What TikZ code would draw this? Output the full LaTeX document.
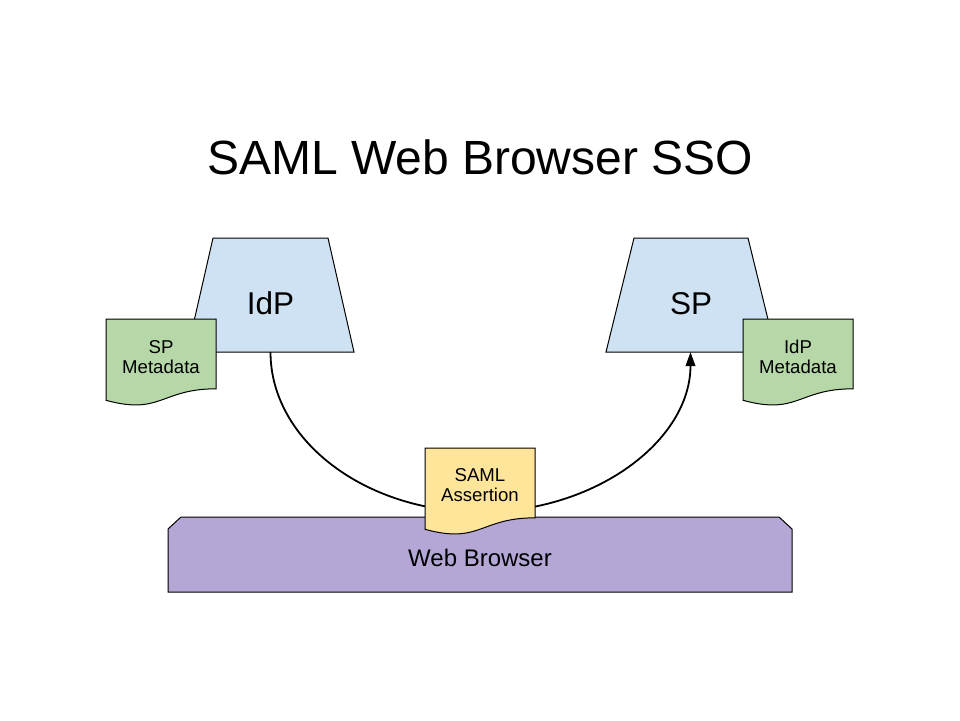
\documentclass[tikz,border=0pt]{standalone}
\usepackage{fontspec}
\setmainfont{Liberation Sans}
\usetikzlibrary{arrows.meta}
\definecolor{trapblue}{HTML}{CFE2F3}
\definecolor{docgreen}{HTML}{B6D7A8}
\definecolor{docyellow}{HTML}{FFE599}
\definecolor{browserpurple}{HTML}{B4A7D6}
\tikzset{
  shapeline/.style={draw=black, line width=1pt, line join=miter},
  titletext/.style={font=\fontsize{48}{58}\selectfont, inner sep=0pt},
  bigtext/.style={font=\fontsize{31.5}{36}\selectfont, inner sep=0pt},
  midtext/.style={font=\fontsize{24}{29}\selectfont, inner sep=0pt},
  doctext/.style={font=\fontsize{18.6}{20.5}\selectfont, align=center, inner sep=0pt},
  flow/.style={draw=black, line width=1.8pt, -{Triangle[length=14pt,width=9.5pt]}},
}
% document shape: top-left x, y, fill colour
\newcommand\paperdoc[3]{%
  \draw[shapeline, fill=#3] (#1,#2) -- ++(110,0) -- ++(0,69.8)
    .. controls +(-55,0) and +(55,15.1) .. ++(-110,11.5) -- cycle;}
\begin{document}
\begin{tikzpicture}[x=1pt,y=-1pt]
\useasboundingbox (0,0) rectangle (960,720);
\fill[white] (0,0) rectangle (960,720);

% title
\node[titletext, anchor=base] (title) at (480,174) {SAML Web Browser SSO};

% IdP trapezoid
\draw[shapeline, fill=trapblue] (213,238) -- (328,238) -- (354,352) -- (187,352) -- cycle;
\node[bigtext, anchor=base] (idp) at (270.5,314) {IdP};
\coordinate (idpbottom) at (270.5,352);

% SP trapezoid
\draw[shapeline, fill=trapblue] (634,238) -- (748,238) -- (776,352) -- (606,352) -- cycle;
\node[bigtext, anchor=base] (sp) at (691,314) {SP};
\coordinate (spbottom) at (690.5,352);

% flow curve
\coordinate (curvebottom) at (480.5,512);
\draw[flow] (idpbottom) .. controls +(0,88) and +(-116,0) .. (curvebottom)
  .. controls +(116,0) and +(0,88) .. (spbottom);

% SP metadata document
\paperdoc{106}{319}{docgreen}
\node[doctext] (spmeta) at (161,357) {SP\\Metadata};

% IdP metadata document
\paperdoc{743}{319}{docgreen}
\node[doctext] (idpmeta) at (798,357) {IdP\\Metadata};

% web browser
\draw[shapeline, fill=browserpurple] (168,529) -- (181,517) -- (779,517) -- (792,529)
  -- (792,592) -- (168,592) -- cycle;
\node[midtext, anchor=base] (browser) at (480,566) {Web Browser};

% SAML assertion document
\paperdoc{425}{448}{docyellow}
\node[doctext] (assertion) at (480,485) {SAML\\Assertion};
\end{tikzpicture}
\end{document}
